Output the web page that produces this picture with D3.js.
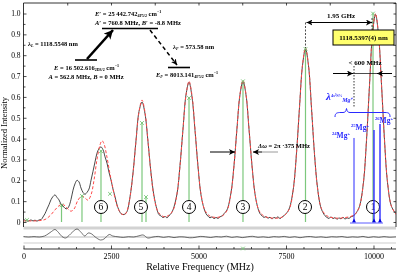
<!DOCTYPE html>
<html><head><meta charset="utf-8">
<script src="https://cdn.jsdelivr.net/npm/d3@7"></script>
<style>
html,body{margin:0;padding:0;background:#fff;}
svg{display:block;will-change:transform;}
text{font-family:"Liberation Serif","Times New Roman",serif;}
</style></head><body>
<svg id="chart" width="399" height="272"></svg>
<script>
// ---------- data ----------
const xTickValues = [0, 2500, 5000, 7500, 10000];
const xTickLabels = ["0", "2500", "5000", "7500", "10000"];
const yTickValues = [0, 0.1, 0.2, 0.3, 0.4, 0.5, 0.6, 0.7, 0.8, 0.9, 1.0];
const yTickLabels = ["0", "0.1", "0.2", "0.3", "0.4", "0.5", "0.6", "0.7", "0.8", "0.9", "1.0"];

// measured spectrum [MHz, normalized intensity]
const measured = [
[0,0.012],[71,0.007],[129,0.004],[214,0.01],[271,0.005],[329,0.009],[386,0.004],[443,0.01],[500,0.011],[557,0.024],[614,0.04],[671,0.062],[729,0.083],[786,0.107],[843,0.122],[900,0.13],[957,0.118],[1014,0.106],[1071,0.086],[1129,0.077],[1186,0.066],[1243,0.063],[1300,0.076],[1357,0.108],[1414,0.152],[1471,0.183],[1529,0.2],[1586,0.192],[1643,0.163],[1700,0.142],[1757,0.133],[1814,0.142],[1871,0.158],[1929,0.2],[1986,0.243],[2043,0.288],[2100,0.33],[2157,0.352],[2214,0.36],[2271,0.347],[2329,0.313],[2386,0.282],[2443,0.238],[2500,0.202],[2557,0.158],[2614,0.122],[2671,0.083],[2729,0.056],[2786,0.04],[2843,0.036],[2900,0.038],[2957,0.05],
[3043,0.12],[3129,0.235],[3214,0.39],[3300,0.53],[3386,0.575],[3471,0.52],[3557,0.385],[3643,0.235],[3729,0.125],[3814,0.06],[3871,0.035],[3929,0.029],[3986,0.021],[4043,0.027],[4100,0.02],[4157,0.03],[4214,0.04],[4271,0.058],
[4386,0.135],[4471,0.27],[4557,0.445],[4643,0.61],[4729,0.67],[4814,0.6],[4900,0.44],[4986,0.265],[5071,0.13],[5157,0.065],[5214,0.04],[5271,0.028],[5329,0.02],[5386,0.025],[5443,0.016],[5500,0.022],[5557,0.017],[5614,0.025],[5671,0.029],[5729,0.04],[5814,0.058],
[5928,0.14],[6014,0.27],[6100,0.45],[6185,0.61],[6271,0.675],[6357,0.61],[6443,0.445],[6529,0.27],[6614,0.135],[6700,0.065],[6757,0.04],[6814,0.03],[6871,0.022],[6929,0.026],[6986,0.018],[7043,0.023],[7100,0.015],[7157,0.022],[7214,0.018],[7271,0.025],[7329,0.016],[7386,0.024],[7443,0.03],[7500,0.04],[7557,0.052],[7614,0.075],
[7714,0.165],[7800,0.33],[7886,0.55],[7971,0.75],[8057,0.83],[8143,0.75],[8229,0.545],[8314,0.325],[8400,0.165],[8486,0.075],[8557,0.045],[8614,0.03],[8671,0.022],[8729,0.017],[8786,0.025],[8843,0.016],[8900,0.021],[8957,0.013],[9014,0.02],[9071,0.015],[9129,0.023],[9186,0.014],[9243,0.02],[9300,0.017],[9357,0.025],[9414,0.028],[9471,0.036],[9529,0.05],
[9600,0.075],[9714,0.19],[9800,0.39],[9886,0.655],[9971,0.9],[10057,0.995],[10143,0.9],[10229,0.66],[10314,0.395],[10400,0.19],[10514,0.075],[10657,0.035]
];

// fitted spectrum [MHz, normalized intensity]
const fitted = [
[0,0.005],[186,0.005],[414,0.006],[614,0.012],[757,0.03],[900,0.058],[1014,0.078],[1100,0.085],[1186,0.078],[1271,0.062],[1357,0.052],[1443,0.062],[1557,0.105],[1671,0.125],[1757,0.115],[1843,0.105],[1929,0.13],[2014,0.2],[2100,0.3],[2186,0.37],[2243,0.39],[2300,0.375],[2386,0.31],[2471,0.23],[2557,0.16],[2643,0.095],[2729,0.055],[2814,0.037],[2886,0.035],
[2957,0.052],[3043,0.119],[3129,0.233],[3214,0.387],[3300,0.527],[3386,0.585],[3471,0.527],[3557,0.387],[3643,0.233],[3729,0.119],[3843,0.049],[3986,0.027],[4057,0.025],[4129,0.03],
[4271,0.055],[4386,0.135],[4471,0.268],[4557,0.446],[4643,0.608],[4729,0.675],[4814,0.608],[4900,0.446],[4986,0.268],[5071,0.135],[5186,0.055],[5329,0.028],[5500,0.022],
[5671,0.028],[5814,0.055],[5928,0.136],[6014,0.27],[6100,0.449],[6185,0.613],[6271,0.68],[6357,0.613],[6443,0.449],[6529,0.27],[6614,0.136],[6729,0.055],[6871,0.028],[7043,0.02],[7329,0.02],
[7457,0.031],[7600,0.064],[7714,0.164],[7800,0.329],[7886,0.55],[7971,0.752],[8057,0.835],[8143,0.752],[8229,0.55],[8314,0.329],[8400,0.164],[8514,0.064],[8657,0.031],[8843,0.02],[9129,0.02],
[9457,0.035],[9600,0.074],[9714,0.194],[9800,0.392],[9886,0.658],[9971,0.9],[10057,1.0],[10143,0.9],[10229,0.658],[10314,0.392],[10400,0.194],[10514,0.074],[10657,0.035]
];

// residual (measured - fit)
const residual = [
[0,0.005],[150,0.0],[300,0.004],[450,0.0],[600,0.01],[700,0.03],[800,0.055],[900,0.075],[1000,0.045],[1100,0.005],[1200,-0.01],[1300,0.015],[1400,0.05],[1530,0.08],[1650,0.045],[1750,0.01],[1850,0.04],[1950,0.03],[2050,0.0],[2200,-0.03],[2300,-0.02],[2450,0.025],[2550,0.01],[2700,0.002],[2850,-0.004],[3000,0.003],[3150,0.0],[3300,0.012],[3420,0.02],[3550,-0.01],[3700,0.0],[3850,0.006],[4000,-0.004],[4150,0.004],[4300,-0.006],[4450,0.002],[4600,0.0],[4750,-0.008],[4900,-0.004],[5050,0.006],[5200,0.002],[5350,-0.005],[5500,0.004],[5650,0.0],[5800,0.008],[5950,-0.004],[6100,0.003],[6250,-0.006],[6400,0.002],[6550,0.007],[6700,-0.003],[6850,0.002],[7000,-0.005],[7150,0.004],[7300,0.0],[7450,0.006],[7600,-0.004],[7750,0.003],[7900,-0.007],[8050,0.002],[8200,0.005],[8350,-0.003],[8500,0.002],[8650,-0.005],[8800,0.003],[8950,0.0],[9100,0.005],[9250,-0.004],[9400,0.002],[9550,-0.002],[9700,0.006],[9850,-0.005],[10000,0.003],[10150,-0.003],[10300,0.004],[10450,-0.002],[10643,0.002]
];

// hyperfine components (green sticks) [MHz, intensity]
const components = [[1086,0.08],[1671,0.125],[2214,0.34],[3386,0.475],[3500,0.12],[4729,0.595],[6271,0.675],[8057,0.83],[9986,1.0]];
const extraMarks = [[100,0.01],[2471,0.135]];

// peak numbering
const peakNames = ["1", "2", "3", "4", "5", "6"];
const peakFreq  = [9986, 8043, 6271, 4729, 3357, 2214];

// Mg+ isotope reference lines
const isoNames = ["24", "25", "26"];
const isoFreq  = [9443, 10014, 10186];
const isoTop   = [0.403, 0.441, 0.47];

// ---------- drawing ----------
const svg = d3.select("#chart");
const X0 = 23.5, X1 = 396, YT = 3, YB = 227;
const x = d3.scaleLinear().domain([0, 10643]).range([X0, X1]);
const y = d3.scaleLinear().domain([0, 1]).range([222, 13.5]);
const yr = d3.scaleLinear().domain([0, 0.1]).range([237, 227]);

const defs = svg.append("defs");
defs.append("clipPath").attr("id", "clip").append("rect")
  .attr("x", X0).attr("y", YT).attr("width", X1 - X0).attr("height", YB - YT);
function mk(id, size, color) {
  defs.append("marker").attr("id", id).attr("viewBox", "0 0 10 10")
    .attr("refX", 10).attr("refY", 5).attr("markerWidth", size).attr("markerHeight", size)
    .attr("markerUnits", "userSpaceOnUse").attr("orient", "auto-start-reverse")
    .append("path").attr("d", "M0,0 L10,5 L0,10 L2.5,5 z").attr("fill", color);
}
mk("ah", 6, "#000"); mk("ahBig", 9, "#000");

// residual panel
svg.append("line").attr("x1", X0).attr("x2", X1).attr("y1", 228).attr("y2", 228)
  .attr("stroke", "#d2d2d2").attr("stroke-width", 3);
svg.append("line").attr("x1", X0).attr("x2", X1).attr("y1", yr(0)).attr("y2", yr(0))
  .attr("stroke", "#a8a8a8").attr("stroke-width", 0.8);
svg.append("line").attr("x1", X0).attr("x2", X1).attr("y1", 243).attr("y2", 243)
  .attr("stroke", "#cdcdcd").attr("stroke-width", 1.2);
svg.append("path").datum(residual)
  .attr("d", d3.line().x(d => x(d[0])).y(d => yr(d[1])).curve(d3.curveCatmullRom))
  .attr("fill", "none").attr("stroke", "#333").attr("stroke-width", 0.7);

// frame
svg.append("line").attr("x1", X0).attr("x2", X1).attr("y1", YT).attr("y2", YT).attr("stroke", "#000").attr("stroke-width", 0.8);
svg.append("line").attr("x1", X0).attr("x2", X0).attr("y1", YT).attr("y2", YB).attr("stroke", "#000").attr("stroke-width", 0.8);
svg.append("line").attr("x1", X1).attr("x2", X1).attr("y1", YT).attr("y2", YB).attr("stroke", "#000").attr("stroke-width", 0.8);

const fontF = '"Liberation Serif","Times New Roman",serif';
function styleAxis(g) {
  g.select(".domain").remove();
  g.selectAll("line").attr("stroke", "#000").attr("stroke-width", 0.7);
  g.attr("font-family", fontF);
  g.selectAll("text").attr("fill", "#000").style("fill", "#000");
}
// left axis
svg.append("g").attr("transform", `translate(${X0},0)`)
  .call(d3.axisLeft(y).tickValues(yTickValues).tickFormat((d, i) => yTickLabels[i]).tickSize(-3).tickPadding(3))
  .call(styleAxis).call(g => g.selectAll("text").attr("font-size", 7.5));
const minorY = d3.range(0.05, 1.0, 0.1);
svg.append("g").attr("transform", `translate(${X0},0)`)
  .call(d3.axisLeft(y).tickValues(minorY).tickFormat("").tickSize(-2)).call(styleAxis);
// right axis
svg.append("g").attr("transform", `translate(${X1},0)`)
  .call(d3.axisRight(y).tickValues(d3.range(0, 1.06, 0.05)).tickFormat("").tickSize(-2.5)).call(styleAxis);
// top axis
const minorX = d3.range(500, 10643, 500);
svg.append("g").attr("transform", `translate(0,${YT})`)
  .call(d3.axisTop(x).tickValues(d3.range(1250, 10643, 1250)).tickFormat("").tickSize(-2.5)).call(styleAxis);
// bottom axis
svg.append("line").attr("x1", X0).attr("x2", X1).attr("y1", 249).attr("y2", 249).attr("stroke", "#000").attr("stroke-width", 0.8);
svg.append("g").attr("transform", `translate(0,249)`)
  .call(d3.axisBottom(x).tickValues(xTickValues).tickFormat((d, i) => xTickLabels[i]).tickSize(-3.5).tickPadding(4.5))
  .call(styleAxis).call(g => g.selectAll("text").attr("font-size", 8));
svg.append("g").attr("transform", `translate(0,249)`)
  .call(d3.axisBottom(x).tickValues(minorX.filter(v => v % 2500 !== 0)).tickFormat("").tickSize(-2)).call(styleAxis);

// axis titles
svg.append("text").attr("x", 200).attr("y", 270).attr("text-anchor", "middle")
  .attr("font-size", 10).attr("fill", "#000").text("Relative Frequency (MHz)");
svg.append("text").attr("transform", "translate(6.5,133) rotate(-90)").attr("text-anchor", "middle")
  .attr("font-size", 8.5).attr("fill", "#000").text("Normalized Intensity");

// plot content
const plot = svg.append("g").attr("clip-path", "url(#clip)");
const green = "#7cc87c";
plot.selectAll("line.comp").data(components).enter().append("line")
  .attr("x1", d => x(d[0])).attr("x2", d => x(d[0])).attr("y1", y(0)).attr("y2", d => y(d[1]))
  .attr("stroke", green).attr("stroke-width", 1.2);

const lineGen = d3.line().x(d => x(d[0])).y(d => y(d[1])).curve(d3.curveCatmullRom.alpha(0.5));
plot.append("path").datum(measured).attr("d", lineGen)
  .attr("fill", "none").attr("stroke", "#1a1a1a").attr("stroke-width", 0.8);
plot.append("path").datum(fitted).attr("d", lineGen)
  .attr("fill", "none").attr("stroke", "#ff4a4a").attr("stroke-width", 1).attr("stroke-dasharray", "3,2");

// green x markers
function cross(g, cx, cy) {
  g.append("path").attr("d", `M${cx-1.8},${cy-1.8}L${cx+1.8},${cy+1.8}M${cx-1.8},${cy+1.8}L${cx+1.8},${cy-1.8}`)
    .attr("stroke", green).attr("stroke-width", 1);
}
components.concat(extraMarks).forEach(d => cross(plot, x(d[0]), y(d[1])));
cross(svg, x(6271), 248.5);

// peak circles
peakNames.forEach((n, i) => {
  const cx = x(peakFreq[i]);
  svg.append("circle").attr("cx", cx).attr("cy", 207).attr("r", 6.5)
    .attr("fill", "#fff").attr("stroke", "#000").attr("stroke-width", 1);
  svg.append("text").attr("x", cx).attr("y", 210.3).attr("text-anchor", "middle")
    .attr("font-size", 9.5).attr("fill", "#000").text(n);
});

// isotope sticks
const blue = "#2a2aff";
isoNames.forEach((n, i) => {
  const xx = x(isoFreq[i]);
  svg.append("line").attr("x1", xx).attr("x2", xx).attr("y1", y(isoTop[i])).attr("y2", y(0))
    .attr("stroke", blue).attr("stroke-width", i === 0 ? 1 : 1.4);
  svg.append("path").attr("d", `M${xx-2},${y(0)+0.5}L${xx+2},${y(0)+0.5}L${xx},${y(0)-3.5}z`).attr("fill", "#0000dd");
});
svg.append("line").attr("x1", 350).attr("x2", 383).attr("y1", 223).attr("y2", 223)
  .attr("stroke", "#5a5aff").attr("stroke-width", 1);

// ---------- annotations ----------
function rich(g, xx, yy, parts, o) {
  const t = g.append("text").attr("x", xx).attr("y", yy)
    .attr("font-size", o.size).attr("font-weight", o.weight || "bold")
    .attr("text-anchor", o.anchor || "start").attr("fill", o.fill || "#000");
  let shift = 0;
  parts.forEach(p => {
    const ts = t.append("tspan").text(p.t);
    let target = 0, fs = null;
    if (p.sub) { target = o.size * 0.3; fs = o.size * 0.62; }
    if (p.sup) { target = -o.size * 0.42; fs = o.size * 0.62; }
    ts.attr("dy", target - shift); shift = target;
    if (fs) ts.attr("font-size", fs);
    if (p.i) ts.attr("font-style", "italic");
    if (p.s) ts.attr("font-size", p.s);
  });
  return t;
}
const A = svg.append("g");
// level diagram
A.append("line").attr("x1", 102).attr("x2", 158).attr("y1", 28.5).attr("y2", 28.5).attr("stroke", "#000").attr("stroke-width", 1.6);
A.append("line").attr("x1", 75).attr("x2", 97).attr("y1", 60).attr("y2", 60).attr("stroke", "#000").attr("stroke-width", 1.6);
A.append("line").attr("x1", 168).attr("x2", 190).attr("y1", 67.5).attr("y2", 67.5).attr("stroke", "#000").attr("stroke-width", 1.6);
A.append("line").attr("x1", 87).attr("y1", 59).attr("x2", 113).attr("y2", 30).attr("stroke", "#000").attr("stroke-width", 2.6).attr("marker-end", "url(#ahBig)");
A.append("line").attr("x1", 150).attr("y1", 30).attr("x2", 177).attr("y2", 65).attr("stroke", "#000").attr("stroke-width", 1.5).attr("stroke-dasharray", "4,3").attr("marker-end", "url(#ah)");

rich(A, 95, 15.5, [{t:"E", i:true},{t:"′ = 25 442.742"},{t:"4P5/2", sub:true},{t:" cm"},{t:"−1", sup:true}], {size:6.5});
rich(A, 95, 25, [{t:"A", i:true},{t:"′ = 760.8 MHz, "},{t:"B", i:true},{t:"′ = -8.8 MHz"}], {size:6.5});
rich(A, 28, 45.5, [{t:"λ", i:true},{t:"L", sub:true, i:true},{t:" = 1118.5548 nm"}], {size:6.5});
rich(A, 86.5, 69.5, [{t:"E", i:true},{t:" = 16 502.616"},{t:"2D3/2", sub:true},{t:" cm"},{t:"−1", sup:true}], {size:6.5, anchor:"middle"});
rich(A, 86, 78.5, [{t:"A", i:true},{t:" = 562.8 MHz, "},{t:"B", i:true},{t:" = 0 MHz"}], {size:6.5, anchor:"middle"});
rich(A, 173, 48.5, [{t:"λ", i:true},{t:"F", sub:true, i:true},{t:" = 573.58 nm"}], {size:6.5});
rich(A, 187, 76.5, [{t:"E", i:true},{t:"F", sub:true, i:true},{t:" = 8013.141"},{t:"4P5/2", sub:true},{t:" cm"},{t:"−1", sup:true}], {size:6.5, anchor:"middle"});

// 1.95 GHz
const xp2 = x(8057), xp1 = x(9986);
A.append("line").attr("x1", xp2).attr("x2", xp2).attr("y1", 22.5).attr("y2", 48).attr("stroke", "#000").attr("stroke-width", 0.7).attr("stroke-dasharray", "2,1.5");
A.append("line").attr("x1", xp1 - 1).attr("x2", xp1 - 1).attr("y1", 18).attr("y2", 30).attr("stroke", "#000").attr("stroke-width", 0.7).attr("stroke-dasharray", "2,1.5");
A.append("line").attr("x1", xp2 + 1).attr("x2", xp1 - 1).attr("y1", 22.5).attr("y2", 22.5).attr("stroke", "#000").attr("stroke-width", 1)
  .attr("marker-start", "url(#ah)").attr("marker-end", "url(#ah)");
rich(A, 341, 17.5, [{t:"1.95 GHz"}], {size:7, anchor:"middle"});

// yellow box
A.append("rect").attr("x", 333).attr("y", 30).attr("width", 61).attr("height", 15).attr("fill", "#ffff6e").attr("stroke", "#000").attr("stroke-width", 1);
rich(A, 363.5, 40.3, [{t:"1118.5397(4) nm"}], {size:7, anchor:"middle"});

// < 600 MHz
rich(A, 365, 64.5, [{t:"< 600 MHz"}], {size:7, anchor:"middle"});
A.append("line").attr("x1", 333).attr("x2", 353).attr("y1", 73.5).attr("y2", 73.5).attr("stroke", "#000").attr("stroke-width", 1).attr("marker-end", "url(#ah)");
A.append("line").attr("x1", 353).attr("x2", 377).attr("y1", 73.5).attr("y2", 73.5).attr("stroke", "#000").attr("stroke-width", 0.7);
A.append("line").attr("x1", 392).attr("x2", 377).attr("y1", 73.5).attr("y2", 73.5).attr("stroke", "#000").attr("stroke-width", 1).attr("marker-end", "url(#ah)");
A.append("line").attr("x1", x(isoFreq[0])).attr("x2", x(isoFreq[0])).attr("y1", 66).attr("y2", 108).attr("stroke", "#000").attr("stroke-width", 0.8).attr("stroke-dasharray", "1.5,1.5");

// Δω
rich(A, 284, 147.5, [{t:"Δω", i:true},{t:" = 2π ·375 MHz"}], {size:6.5, anchor:"middle"});
A.append("line").attr("x1", 210).attr("x2", 235).attr("y1", 152).attr("y2", 152).attr("stroke", "#000").attr("stroke-width", 1).attr("marker-end", "url(#ah)");
A.append("line").attr("x1", 278).attr("x2", 262).attr("y1", 152).attr("y2", 152).attr("stroke", "#9a9a9a").attr("stroke-width", 1);
A.append("line").attr("x1", 262).attr("x2", 253).attr("y1", 152).attr("y2", 152).attr("stroke", "#000").attr("stroke-width", 1).attr("marker-end", "url(#ah)");

// blue Mg+ labels
const B = svg.append("g");
rich(B, 326, 100, [{t:"λ", i:true, s:11},{t:"4s²S½", sup:true, s:4.5},{t:"Mg⁺", sub:true, s:6, i:true}], {size:7.5, fill:blue});
B.append("path").attr("d", "M335,117 C335,113 337,112.5 341,112.5 L343,112.5 C345,112.5 346,111.5 346.5,108.5 C347,111.5 348,112.5 350,112.5 L385,112.5 C389,112.5 390,113.5 390,117")
  .attr("fill", "none").attr("stroke", blue).attr("stroke-width", 1);
const isoLabelPos = [[341, 138], [360, 130], [384, 123]];
isoNames.forEach((n, i) => {
  rich(B, isoLabelPos[i][0], isoLabelPos[i][1], [{t:n, sup:true},{t:"Mg"},{t:"+", sup:true}], {size:7.5, anchor:"middle", fill:blue});
});
</script>
</body></html>
